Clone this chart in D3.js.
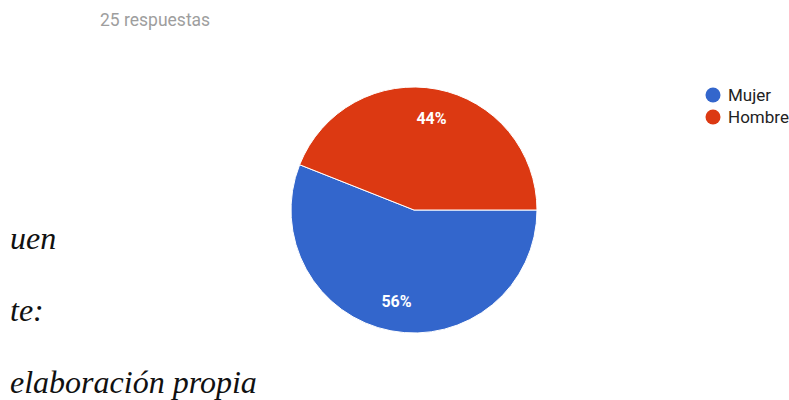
<!DOCTYPE html>
<html>
<head>
<meta charset="utf-8">
<script src="https://cdn.jsdelivr.net/npm/d3@7"></script>
<style>
  body { margin: 0; background: #fff; }
</style>
</head>
<body>
<svg id="chart" width="789" height="400"></svg>
<script>
const categories = ['Mujer', 'Hombre']
const values = [56, 44]
const colors = ['#3366cc', '#dc3912']
const subtitle = '25 respuestas'
const sideText = ['uen', 'te:', 'elaboración propia']

const svg = d3.select('#chart')
const cx = 414, cy = 210, r = 123

svg.append('text')
  .attr('x', 100).attr('y', 26)
  .attr('font-family', 'Roboto, Arial, sans-serif')
  .attr('font-size', 17.5)
  .attr('fill', '#9e9e9e')
  .text(subtitle)

const pie = d3.pie().sort(null)
  .startAngle(Math.PI / 2).endAngle(Math.PI / 2 + 2 * Math.PI)
const arc = d3.arc().innerRadius(0).outerRadius(r)
const labelArc = d3.arc().innerRadius(r * 0.76).outerRadius(r * 0.76)
const color = d3.scaleOrdinal().domain(categories).range(colors)

const g = svg.append('g').attr('transform', `translate(${cx},${cy})`)
const arcs = g.selectAll('g.arc')
  .data(pie(values))
  .enter()
  .append('g')
  .attr('class', 'arc')

arcs.append('path')
  .attr('fill', (d, i) => color(categories[i]))
  .attr('stroke', '#fff')
  .attr('stroke-width', 1)
  .attr('d', arc)

arcs.append('text')
  .attr('transform', d => `translate(${labelArc.centroid(d)})`)
  .attr('text-anchor', 'middle')
  .attr('dy', '0.35em')
  .attr('font-family', 'Roboto, Arial, sans-serif')
  .attr('font-size', 16)
  .attr('font-weight', 'bold')
  .attr('fill', '#fff')
  .text(d => d.data + '%')

// legend
const legend = svg.append('g').attr('transform', 'translate(713,95)')
const items = legend.selectAll('g')
  .data(categories)
  .enter()
  .append('g')
  .attr('transform', (d, i) => `translate(0,${i * 22})`)
items.append('circle')
  .attr('r', 7.5)
  .attr('fill', d => color(d))
items.append('text')
  .attr('x', 15).attr('dy', '0.35em')
  .attr('font-family', 'Roboto, Arial, sans-serif')
  .attr('font-size', 17)
  .attr('fill', '#222')
  .text(d => d)

// cropped caption text on the left
const ys = [249, 321, 393]
svg.selectAll('text.side')
  .data(sideText)
  .enter()
  .append('text')
  .attr('class', 'side')
  .attr('x', 10)
  .attr('y', (d, i) => ys[i])
  .attr('font-family', '"Liberation Serif", "DejaVu Serif", serif')
  .attr('font-style', 'italic')
  .attr('font-size', 32)
  .attr('fill', '#111')
  .text(d => d)
</script>
</body>
</html>
